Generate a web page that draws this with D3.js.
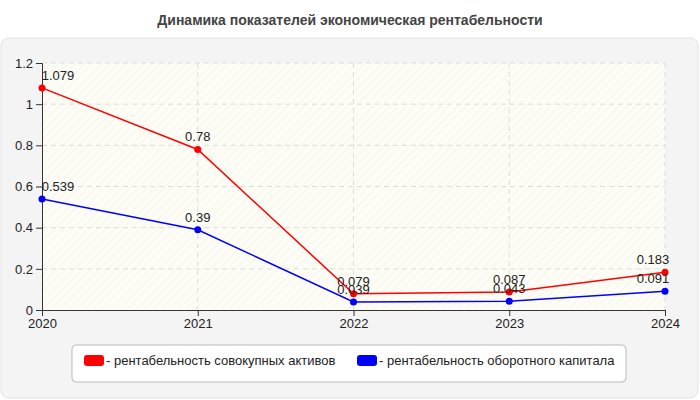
<!DOCTYPE html>
<html><head><meta charset="utf-8">
<script src="https://cdn.jsdelivr.net/npm/d3@7"></script>
<style>body{margin:0;background:#fff}svg text{font-family:"Liberation Sans",Arial,sans-serif}</style>
</head><body><div class="canvas"></div>
<script>
const years = ['2020', '2021', '2022', '2023', '2024'];
const assets = [1.079, 0.78, 0.079, 0.087, 0.183];
const working = [0.539, 0.39, 0.039, 0.043, 0.091];
const yTicks = [0, 0.2, 0.4, 0.6, 0.8, 1, 1.2];
const seriesNames = ['- рентабельность совокупных активов', '- рентабельность оборотного капитала'];
const colors = ['#ff0000', '#0000ff'];

const svg = d3.select('.canvas').append('svg').attr('width', 700).attr('height', 400);

const defs = svg.append('defs');
const pat = defs.append('pattern').attr('id', 'hatch').attr('width', 6).attr('height', 6)
	.attr('patternUnits', 'userSpaceOnUse').attr('patternTransform', 'rotate(45)');
pat.append('rect').attr('width', 6).attr('height', 6).attr('fill', '#fdfdf6');
pat.append('line').attr('x1', 0).attr('y1', 0).attr('x2', 0).attr('y2', 6).attr('stroke', '#f0f0ea').attr('stroke-width', 1);

svg.append('text').attr('x', 350).attr('y', 25).attr('text-anchor', 'middle')
	.attr('font-size', 14).attr('font-weight', 'bold').attr('fill', '#444')
	.text('Динамика показателей экономическая рентабельности');

svg.append('rect').attr('x', 1).attr('y', 38).attr('width', 697).attr('height', 360)
	.attr('rx', 8).attr('fill', '#f4f4f4').attr('stroke', '#e2e2e2');

const margin = { left: 42, right: 35, top: 63, bottom: 90 };
const w = 700 - margin.left - margin.right;
const h = 400 - margin.top - margin.bottom;
const graph = svg.append('g').attr('transform', `translate(${margin.left}, ${margin.top})`);

const x = d3.scalePoint().domain(years).range([0, w]);
const y = d3.scaleLinear().domain([0, 1.2]).range([h, 0]);

graph.append('rect').attr('width', w).attr('height', h).attr('fill', 'url(#hatch)');

graph.selectAll('.gy').data(yTicks.slice(1)).enter().append('line')
	.attr('x1', 0).attr('x2', w).attr('y1', d => y(d)).attr('y2', d => y(d))
	.attr('stroke', '#ddd').attr('stroke-dasharray', '5,4');
graph.selectAll('.gx').data(years.slice(1)).enter().append('line')
	.attr('x1', d => x(d)).attr('x2', d => x(d)).attr('y1', 0).attr('y2', h)
	.attr('stroke', '#ddd').attr('stroke-dasharray', '5,4');

const xAxis = graph.append('g').attr('transform', `translate(0, ${h})`)
	.call(d3.axisBottom(x).tickSizeOuter(0).tickSize(6).tickPadding(3));
const yAxis = graph.append('g')
	.call(d3.axisLeft(y).tickValues(yTicks).tickFormat(d => d).tickSizeOuter(0).tickSize(6).tickPadding(3));
[xAxis, yAxis].forEach(a => {
	a.selectAll('text').attr('font-size', 13).attr('fill', '#222').attr('font-family', '"Liberation Sans", Arial');
	a.selectAll('line,path').attr('stroke', '#333');
});

const line = d3.line().x((d, i) => x(years[i])).y(d => y(d));
[assets, working].forEach((data, k) => {
	graph.append('path').datum(data).attr('d', line).attr('fill', 'none')
		.attr('stroke', colors[k]).attr('stroke-width', 1.5);
	graph.selectAll('.pt' + k).data(data).enter().append('circle')
		.attr('cx', (d, i) => x(years[i])).attr('cy', d => y(d)).attr('r', 3.5).attr('fill', colors[k]);
	graph.selectAll('.lb' + k).data(data).enter().append('text')
		.attr('x', (d, i) => x(years[i]) + (i === 0 ? 16 : i === 4 ? -12 : 0))
		.attr('y', d => y(d) - 8).attr('text-anchor', 'middle')
		.attr('font-size', 13).attr('fill', '#222').text(d => d);
});

const legend = svg.append('g');
legend.append('rect').attr('x', 72).attr('y', 345).attr('width', 554).attr('height', 37)
	.attr('rx', 4).attr('fill', '#fff').attr('stroke', '#bbb');
const lx = [84, 357];
seriesNames.forEach((n, k) => {
	legend.append('rect').attr('x', lx[k]).attr('y', 355).attr('width', 20).attr('height', 11)
		.attr('rx', 3).attr('fill', colors[k]);
	legend.append('text').attr('x', lx[k] + 22).attr('y', 365).attr('font-size', 13).attr('fill', '#222').text(n);
});
</script></body></html>
